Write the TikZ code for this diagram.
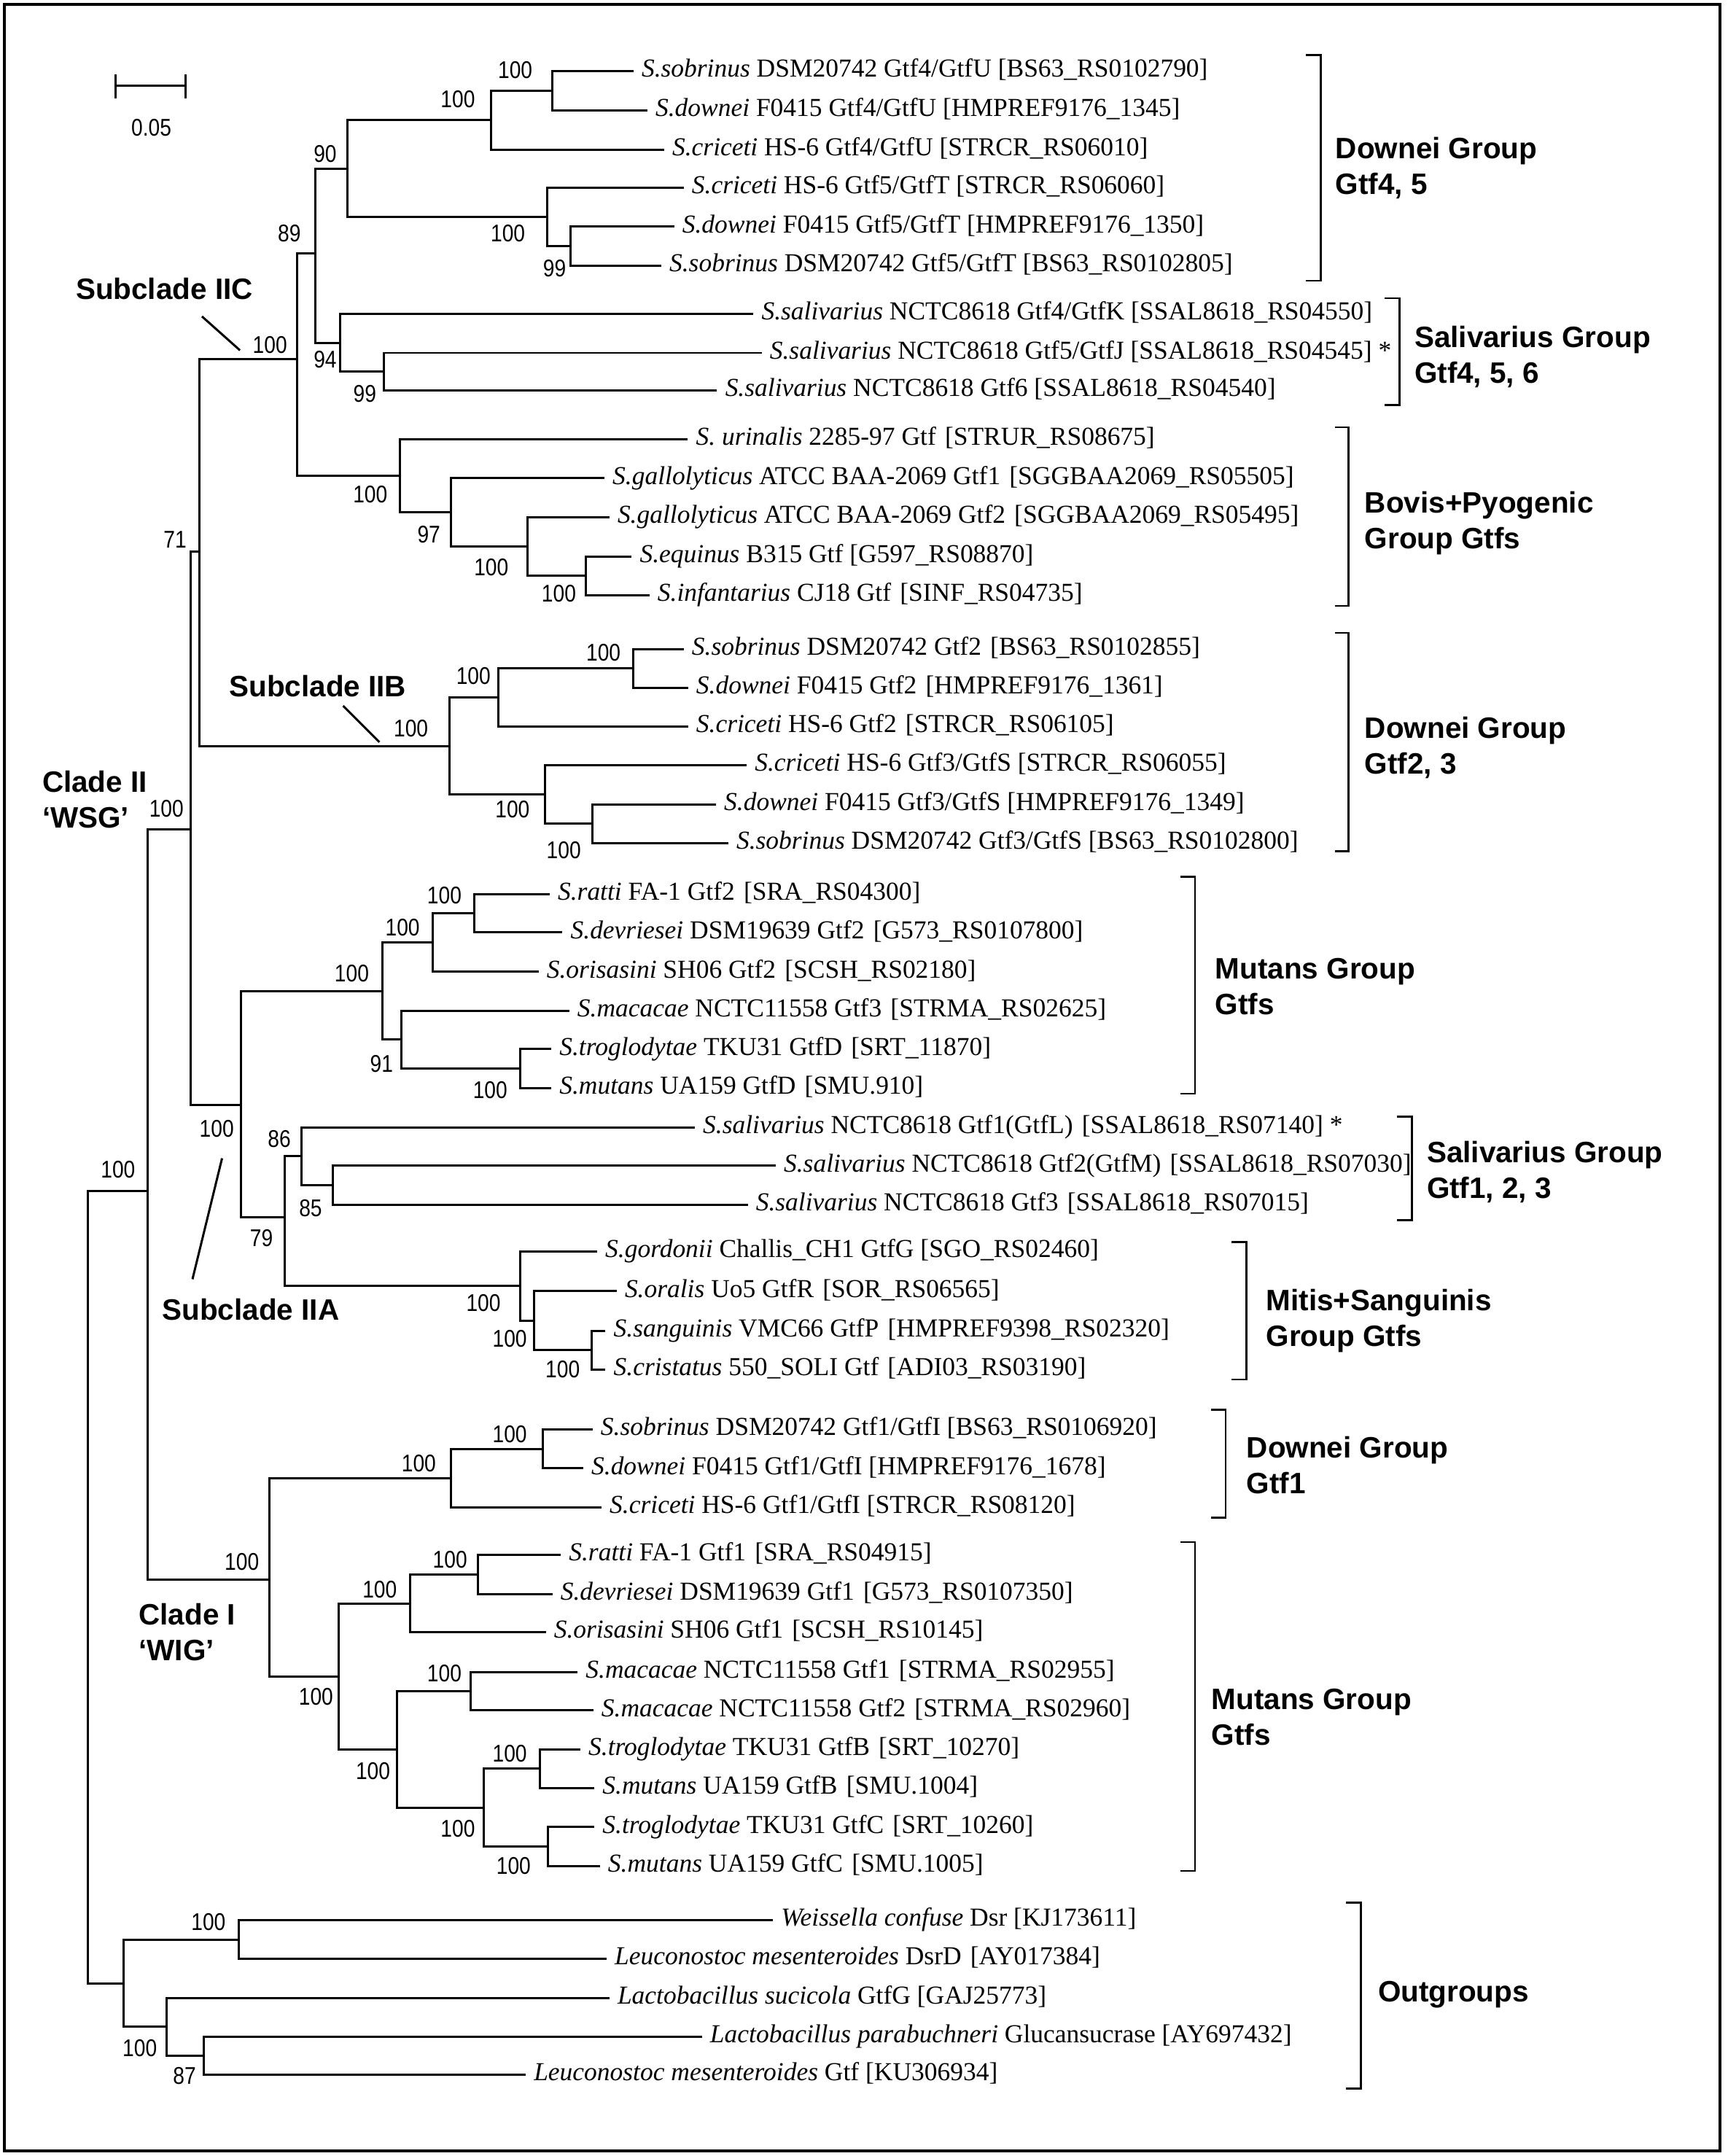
\documentclass[tikz,border=0pt]{standalone}
\usepackage{fontspec}
\setmainfont{Liberation Serif}
\newfontfamily\bootfont[FakeStretch=0.85]{Liberation Sans}
\newfontfamily\grpfont{Liberation Sans}
\usetikzlibrary{calc}
\newcommand{\wgap}{\hspace{1pt}}

\begin{document}
\begin{tikzpicture}[x=0.02cm, y=-0.02cm,
    branch/.style={line width=0.9pt},
    leaf/.style={anchor=west, inner ysep=0pt, inner xsep=3.2pt, text height=7.4pt, text depth=2.4pt, font=\fontsize{10.7}{12}\selectfont},
    boot/.style={anchor=east, inner sep=0pt, font=\bootfont\fontsize{10}{12}\selectfont},
    grp/.style={anchor=west, inner sep=0pt, align=left, font=\grpfont\bfseries\fontsize{12.2}{14.8}\selectfont},
    brk/.style={line width=0.8pt},
    pointer/.style={line width=0.9pt}]
    \useasboundingbox (0,0) rectangle (1256,1567.1);
    \draw[line width=1.2pt] (3,3) rectangle (1250,1563.5);

    % scale bar
    \coordinate (sbL) at (84,62.5);
    \coordinate (sbR) at (135,62.5);
    \draw[branch] (sbL) -- (sbR);
    \draw[branch] ($(sbL)+(0,-8.5)$) -- ($(sbL)+(0,9)$);
    \draw[branch] ($(sbR)+(0,-8.5)$) -- ($(sbR)+(0,9)$);
    \node[boot, anchor=center] (sbtext) at (110,92.7) {0.05};

    % leaves
    \node[leaf] (sobU) at (460.4,51.5) {\textit{S.sobrinus} DSM20742 Gtf4/GtfU [BS63\_RS0102790]};
    \node[leaf] (dowU) at (470.5,80.4) {\textit{S.downei} F0415 Gtf4/GtfU [HMPREF9176\_1345]};
    \node[leaf] (criU) at (482.7,108.8) {\textit{S.criceti} HS-6 Gtf4/GtfU [STRCR\_RS06010]};
    \node[leaf] (criT) at (496.9,136.3) {\textit{S.criceti} HS-6 Gtf5/GtfT [STRCR\_RS06060]};
    \node[leaf] (dowT) at (490,164.7) {\textit{S.downei} F0415 Gtf5/GtfT [HMPREF9176\_1350]};
    \node[leaf] (sobT) at (480.6,193.1) {\textit{S.sobrinus} DSM20742 Gtf5/GtfT [BS63\_RS0102805]};
    \node[leaf] (salK) at (547.6,228.1) {\textit{S.salivarius} NCTC8618 Gtf4/GtfK [SSAL8618\_RS04550]};
    \node[leaf] (salJ) at (553.6,256.5) {\textit{S.salivarius} NCTC8618 Gtf5/GtfJ [SSAL8618\_RS04545] *};
    \node[leaf] (sal6) at (521.2,283.9) {\textit{S.salivarius} NCTC8618 Gtf6 [SSAL8618\_RS04540]};
    \node[leaf] (uri) at (500,319.2) {\textit{S. urinalis} 2285-97 Gtf\wgap{} [STRUR\_RS08675]};
    \node[leaf] (galA) at (439.3,347.6) {\textit{S.gallolyticus} ATCC BAA-2069 Gtf1\wgap{} [SGGBAA2069\_RS05505]};
    \node[leaf] (galB) at (442.9,375.9) {\textit{S.gallolyticus} ATCC BAA-2069 Gtf2\wgap{} [SGGBAA2069\_RS05495]};
    \node[leaf] (equ) at (459.1,404.4) {\textit{S.equinus} B315 Gtf [G597\_RS08870]};
    \node[leaf] (inf) at (472,432.6) {\textit{S.infantarius} CJ18 Gtf\wgap{} [SINF\_RS04735]};
    \node[leaf] (sob2) at (496.9,471.8) {\textit{S.sobrinus} DSM20742 Gtf2\wgap{} [BS63\_RS0102855]};
    \node[leaf] (dow2) at (500.1,500) {\textit{S.downei} F0415 Gtf2\wgap{} [HMPREF9176\_1361]};
    \node[leaf] (cri2) at (500.1,527.9) {\textit{S.criceti} HS-6 Gtf2\wgap{} [STRCR\_RS06105]};
    \node[leaf] (criS) at (542.7,556.3) {\textit{S.criceti} HS-6 Gtf3/GtfS [STRCR\_RS06055]};
    \node[leaf] (dowS) at (520.4,584.6) {\textit{S.downei} F0415 Gtf3/GtfS [HMPREF9176\_1349]};
    \node[leaf] (sobS) at (529.3,612.7) {\textit{S.sobrinus} DSM20742 Gtf3/GtfS [BS63\_RS0102800]};
    \node[leaf] (rat2) at (399.5,649.9) {\textit{S.ratti} FA-1 Gtf2\wgap{} [SRA\_RS04300]};
    \node[leaf] (dev2) at (408.8,677.8) {\textit{S.devriesei} DSM19639 Gtf2\wgap{} [G573\_RS0107800]};
    \node[leaf] (ori2) at (391.4,706.3) {\textit{S.orisasini} SH06 Gtf2\wgap{} [SCSH\_RS02180]};
    \node[leaf] (mac3) at (413.7,734.6) {\textit{S.macacae} NCTC11558 Gtf3\wgap{} [STRMA\_RS02625]};
    \node[leaf] (troD) at (400.7,762.6) {\textit{S.troglodytae} TKU31 GtfD\wgap{} [SRT\_11870]};
    \node[leaf] (mutD) at (400.7,790.9) {\textit{S.mutans} UA159 GtfD\wgap{} [SMU.910]};
    \node[leaf] (salL) at (505,819.4) {\textit{S.salivarius} NCTC8618 Gtf1(GtfL)\wgap{} [SSAL8618\_RS07140] *};
    \node[leaf] (salM) at (563.8,847.3) {\textit{S.salivarius} NCTC8618 Gtf2(GtfM)\wgap{} [SSAL8618\_RS07030]};
    \node[leaf] (sal3) at (543.5,875.8) {\textit{S.salivarius} NCTC8618 Gtf3\wgap{} [SSAL8618\_RS07015]};
    \node[leaf] (gor) at (434,909.6) {\textit{S.gordonii} Challis\_CH1 GtfG [SGO\_RS02460]};
    \node[leaf] (ora) at (448.2,938.5) {\textit{S.oralis} Uo5 GtfR\wgap{} [SOR\_RS06565]};
    \node[leaf] (san) at (440.1,967.4) {\textit{S.sanguinis} VMC66 GtfP\wgap{} [HMPREF9398\_RS02320]};
    \node[leaf] (cri) at (440.1,995.3) {\textit{S.cristatus} 550\_SOLI Gtf\wgap{} [ADI03\_RS03190]};
    \node[leaf] (sobI) at (430.7,1039) {\textit{S.sobrinus} DSM20742 Gtf1/GtfI [BS63\_RS0106920]};
    \node[leaf] (dowI) at (423.9,1067.2) {\textit{S.downei} F0415 Gtf1/GtfI [HMPREF9176\_1678]};
    \node[leaf] (criI) at (437.2,1095.5) {\textit{S.criceti} HS-6 Gtf1/GtfI [STRCR\_RS08120]};
    \node[leaf] (rat1) at (407.6,1130.2) {\textit{S.ratti} FA-1 Gtf1\wgap{} [SRA\_RS04915]};
    \node[leaf] (dev1) at (401.5,1158.5) {\textit{S.devriesei} DSM19639 Gtf1\wgap{} [G573\_RS0107350]};
    \node[leaf] (ori1) at (396.7,1186.4) {\textit{S.orisasini} SH06 Gtf1\wgap{} [SCSH\_RS10145]};
    \node[leaf] (mac1) at (419.8,1215.5) {\textit{S.macacae} NCTC11558 Gtf1\wgap{} [STRMA\_RS02955]};
    \node[leaf] (mac2) at (431.2,1243.2) {\textit{S.macacae} NCTC11558 Gtf2\wgap{} [STRMA\_RS02960]};
    \node[leaf] (troB) at (421.8,1271.5) {\textit{S.troglodytae} TKU31 GtfB\wgap{} [SRT\_10270]};
    \node[leaf] (mutB) at (432,1299.7) {\textit{S.mutans} UA159 GtfB\wgap{} [SMU.1004]};
    \node[leaf] (troC) at (432,1328) {\textit{S.troglodytae} TKU31 GtfC\wgap{} [SRT\_10260]};
    \node[leaf] (mutC) at (436,1356.2) {\textit{S.mutans} UA159 GtfC\wgap{} [SMU.1005]};
    \node[leaf] (wei) at (561.8,1395.6) {\textit{Weissella confuse} Dsr [KJ173611]};
    \node[leaf] (leuD) at (440.9,1423.8) {\textit{Leuconostoc mesenteroides} DsrD\wgap{} [AY017384]};
    \node[leaf] (lacS) at (442.9,1452.1) {\textit{Lactobacillus sucicola} GtfG [GAJ25773]};
    \node[leaf] (lacP) at (510.2,1480.3) {\textit{Lactobacillus parabuchneri} Glucansucrase [AY697432]};
    \node[leaf] (leuG) at (382.1,1508.1) {\textit{Leuconostoc mesenteroides} Gtf [KU306934]};

    % internal nodes
    \coordinate (n1) at (401.5,66.0);
    \coordinate (n2) at (357,87.4);
    \coordinate (n3) at (252.3,122.5);
    \coordinate (n4) at (229.2,184);
    \coordinate (n5) at (397.5,157.6);
    \coordinate (n6) at (414.5,178.9);
    \coordinate (n7) at (216.2,261);
    \coordinate (n8) at (247.4,249.2);
    \coordinate (n9) at (279,270.2);
    \coordinate (n10) at (145.2,401);
    \coordinate (n11) at (290.8,345.8);
    \coordinate (n12) at (327.7,372.4);
    \coordinate (n13) at (383.3,397.2);
    \coordinate (n14) at (425.9,418.5);
    \coordinate (n16) at (138.5,603);
    \coordinate (n17) at (326.5,542.2);
    \coordinate (n18) at (362.2,506.9);
    \coordinate (n19) at (460.4,485.9);
    \coordinate (n20) at (396.3,577.5);
    \coordinate (n21) at (430.7,598.7);
    \coordinate (n22) at (107.5,865.6);
    \coordinate (n23) at (175.2,803);
    \coordinate (n24) at (277.8,720.4);
    \coordinate (n25) at (314.3,685.1);
    \coordinate (n26) at (344.8,663.9);
    \coordinate (n27) at (292,755.7);
    \coordinate (n28) at (378,776.8);
    \coordinate (n29) at (206.9,885);
    \coordinate (n30) at (219,840.5);
    \coordinate (n31) at (242.1,861.6);
    \coordinate (n33) at (378,934.8);
    \coordinate (n34) at (388.2,960);
    \coordinate (n35) at (429.9,981.4);
    \coordinate (n36) at (327.7,1074.3);
    \coordinate (n37) at (394.7,1053.1);
    \coordinate (n38) at (195.9,1148);
    \coordinate (n39) at (246.2,1218.6);
    \coordinate (n40) at (298.1,1165.4);
    \coordinate (n41) at (347.6,1144.4);
    \coordinate (n42) at (288.8,1271.7);
    \coordinate (n43) at (341.9,1229.4);
    \coordinate (n44) at (351.7,1313.9);
    \coordinate (n45) at (392.2,1285.6);
    \coordinate (n46) at (398.3,1342.1);
    \coordinate (n47) at (90,1441.5);
    \coordinate (n48) at (173.6,1409.7);
    \coordinate (n49) at (120.9,1473.2);
    \coordinate (n50) at (148,1494.2);
    \coordinate (root) at (63.7,1153.5);

    % branches
    \draw[branch] (sobU.west) -| (n1) |- (dowU.west);
    \draw[branch] (n1) -| (n2) |- (criU.west);
    \draw[branch] (dowT.west) -| (n6) |- (sobT.west);
    \draw[branch] (criT.west) -| (n5) |- (n6);
    \draw[branch] (n2) -| (n3) |- (n5);
    \draw[branch] (salJ.west) -| (n9) |- (sal6.west);
    \draw[branch] (salK.west) -| (n8) |- (n9);
    \draw[branch] (n3) -| (n4) |- (n8);
    \draw[branch] (equ.west) -| (n14) |- (inf.west);
    \draw[branch] (galB.west) -| (n13) |- (n14);
    \draw[branch] (galA.west) -| (n12) |- (n13);
    \draw[branch] (uri.west) -| (n11) |- (n12);
    \draw[branch] (n4) -| (n7) |- (n11);
    \draw[branch] (sob2.west) -| (n19) |- (dow2.west);
    \draw[branch] (n19) -| (n18) |- (cri2.west);
    \draw[branch] (dowS.west) -| (n21) |- (sobS.west);
    \draw[branch] (criS.west) -| (n20) |- (n21);
    \draw[branch] (n18) -| (n17) |- (n20);
    \draw[branch] (n7) -| (n10) |- (n17);
    \draw[branch] (rat2.west) -| (n26) |- (dev2.west);
    \draw[branch] (n26) -| (n25) |- (ori2.west);
    \draw[branch] (troD.west) -| (n28) |- (mutD.west);
    \draw[branch] (mac3.west) -| (n27) |- (n28);
    \draw[branch] (n25) -| (n24) |- (n27);
    \draw[branch] (salM.west) -| (n31) |- (sal3.west);
    \draw[branch] (salL.west) -| (n30) |- (n31);
    \draw[branch] (san.west) -| (n35) |- (cri.west);
    \draw[branch] (ora.west) -| (n34) |- (n35);
    \draw[branch] (gor.west) -| (n33) |- (n34);
    \draw[branch] (n30) -| (n29) |- (n33);
    \draw[branch] (n24) -| (n23) |- (n29);
    \draw[branch] (n10) -| (n16) |- (n23);
    \draw[branch] (sobI.west) -| (n37) |- (dowI.west);
    \draw[branch] (n37) -| (n36) |- (criI.west);
    \draw[branch] (rat1.west) -| (n41) |- (dev1.west);
    \draw[branch] (n41) -| (n40) |- (ori1.west);
    \draw[branch] (mac1.west) -| (n43) |- (mac2.west);
    \draw[branch] (troB.west) -| (n45) |- (mutB.west);
    \draw[branch] (troC.west) -| (n46) |- (mutC.west);
    \draw[branch] (n45) -| (n44) |- (n46);
    \draw[branch] (n43) -| (n42) |- (n44);
    \draw[branch] (n40) -| (n39) |- (n42);
    \draw[branch] (n36) -| (n38) |- (n39);
    \draw[branch] (n16) -| (n22) |- (n38);
    \draw[branch] (wei.west) -| (n48) |- (leuD.west);
    \draw[branch] (lacP.west) -| (n50) |- (leuG.west);
    \draw[branch] (lacS.west) -| (n49) |- (n50);
    \draw[branch] (n48) -| (n47) |- (n49);
    \draw[branch] (n22) -| (root) |- (n47);

    % bootstrap values
    \node[boot] (b1) at (387.3,51.1) {100};
    \node[boot] (b2) at (345.6,71.9) {100};
    \node[boot] (b3) at (245,111.7) {90};
    \node[boot] (b4) at (219,169.4) {89};
    \node[boot] (b5) at (382,169.4) {100};
    \node[boot] (b6) at (411.7,195.3) {99};
    \node[boot] (b7) at (209,250.8) {100};
    \node[boot] (b8) at (245,261.2) {94};
    \node[boot] (b9) at (273.8,286.2) {99};
    \node[boot] (b10) at (135.9,392.4) {71};
    \node[boot] (b11) at (281.9,359.4) {100};
    \node[boot] (b12) at (320.4,388.7) {97};
    \node[boot] (b13) at (369.9,412.4) {100};
    \node[boot] (b14) at (419,431.6) {100};
    \node[boot] (b16) at (133.8,587.7) {100};
    \node[boot] (b17) at (311.5,529.5) {100};
    \node[boot] (b18) at (356.9,491.4) {100};
    \node[boot] (b19) at (451.4,474.3) {100};
    \node[boot] (b20) at (385.3,588.3) {100};
    \node[boot] (b21) at (422.6,618.1) {100};
    \node[boot] (b22) at (98.6,850.2) {100};
    \node[boot] (b23) at (170.3,820.4) {100};
    \node[boot] (b24) at (268.5,707.6) {100};
    \node[boot] (b25) at (305.4,673.9) {100};
    \node[boot] (b26) at (335.8,650.8) {100};
    \node[boot] (b27) at (286,773.1) {91};
    \node[boot] (b28) at (369.1,792.4) {100};
    \node[boot] (b29) at (198.7,900) {79};
    \node[boot] (b30) at (211.7,828) {86};
    \node[boot] (b31) at (234.4,878.1) {85};
    \node[boot] (b33) at (364.2,947.1) {100};
    \node[boot] (b34) at (383.3,973.1) {100};
    \node[boot] (b35) at (421.8,995.3) {100};
    \node[boot] (b36) at (317.2,1063.7) {100};
    \node[boot] (b37) at (383.3,1042.5) {100};
    \node[boot] (b38) at (188.6,1135) {100};
    \node[boot] (b39) at (242.5,1233.4) {100};
    \node[boot] (b40) at (288.8,1155.2) {100};
    \node[boot] (b41) at (339.9,1133.4) {100};
    \node[boot] (b42) at (283.9,1287.5) {100};
    \node[boot] (b43) at (335.8,1216.2) {100};
    \node[boot] (b44) at (345.6,1329.2) {100};
    \node[boot] (b45) at (383.3,1274.7) {100};
    \node[boot] (b46) at (386.1,1356.2) {100};
    \node[boot] (b48) at (164.3,1396.8) {100};
    \node[boot] (b49) at (114.4,1488.9) {100};
    \node[boot] (b50) at (142.8,1508.6) {87};

    % clade labels and pointers
    \node[grp] (iic) at (54.8,210.1) {Subclade IIC};
    \node[grp] (iib) at (166.3,498.6) {Subclade IIB};
    \node[grp] (iia) at (117.6,952) {Subclade IIA};
    \node[grp] (cladeII) at (30.4,581) {Clade II\\‘WSG’};
    \node[grp] (cladeI) at (100.6,1186.2) {Clade I\\‘WIG’};
    \coordinate (iicA) at (146.8,230);
    \coordinate (iicB) at (174.4,254.6);
    \coordinate (iibA) at (249.4,513);
    \coordinate (iibB) at (275.8,539.4);
    \coordinate (iiaA) at (161.4,841.9);
    \coordinate (iiaB) at (139.9,929.8);
    \draw[pointer] (iicA) -- (iicB);
    \draw[pointer] (iibA) -- (iibB);
    \draw[pointer] (iiaA) -- (iiaB);

    % group brackets
    \draw[brk] (949.3,40.1) -- (959.9,40.1) -- (959.9,204.1) -- (949.3,204.1);
    \draw[brk] (1006.6,216.7) -- (1017.2,216.7) -- (1017.2,294.3) -- (1006.6,294.3);
    \draw[brk] (970.5,310.5) -- (980,310.5) -- (980,440.4) -- (970.5,440.4);
    \draw[brk] (970.5,460) -- (980,460) -- (980,618.6) -- (970.5,618.6);
    \draw[brk] (858,637.3) -- (868.6,637.3) -- (868.6,794.9) -- (858,794.9);
    \draw[brk] (1015.6,811.7) -- (1026.2,811.7) -- (1026.2,886.8) -- (1015.6,886.8);
    \draw[brk] (895.2,902.8) -- (905.8,902.8) -- (905.8,1002.6) -- (895.2,1002.6);
    \draw[brk] (880.3,1024.8) -- (890.9,1024.8) -- (890.9,1103.2) -- (880.3,1103.2);
    \draw[brk] (858,1120.9) -- (868.6,1120.9) -- (868.6,1359.9) -- (858,1359.9);
    \draw[brk] (978.5,1382.8) -- (989.1,1382.8) -- (989.1,1517.9) -- (978.5,1517.9);

    % group labels
    \node[grp] (g1) at (970.5,122) {Downei Group\\Gtf4, 5};
    \node[grp] (g2) at (1027.8,259.3) {Salivarius Group\\Gtf4, 5, 6};
    \node[grp] (g3) at (991.7,380.5) {Bovis+Pyogenic\\Group Gtfs};
    \node[grp] (g4) at (991.7,543.4) {Downei Group\\Gtf2, 3};
    \node[grp] (g5) at (883,717.3) {Mutans Group\\Gtfs};
    \node[grp] (g6) at (1036.8,852.1) {Salivarius Group\\Gtf1, 2, 3};
    \node[grp] (g7) at (920,960.1) {Mitis+Sanguinis\\Group Gtfs};
    \node[grp] (g8) at (905.8,1065.1) {Downei Group\\Gtf1};
    \node[grp] (g9) at (880.3,1248.1) {Mutans Group\\Gtfs};
    \node[grp] (g10) at (1001.3,1449.6) {Outgroups};
\end{tikzpicture}
\end{document}
